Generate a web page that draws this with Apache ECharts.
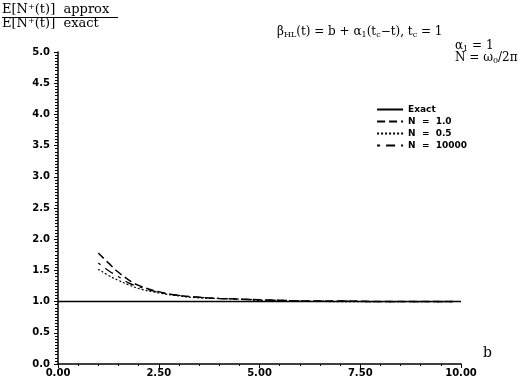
<!DOCTYPE html>
<html style="height: 100%">
<head>
    <meta charset="UTF-8">
    <title>E[N+(t)] ratio</title>
</head>
<body style="height: 100%; margin: 0; background: #fff">
<div id="container" style="width: 528px; height: 380px"></div>

<script type="text/javascript" src="https://cdn.jsdelivr.net/npm/echarts@6/dist/echarts.min.js"></script>
<script type="text/javascript">
    var dom = document.getElementById("container");
    var myChart = echarts.init(dom);

    // x values (b) and ratio values
    var exactX = [0, 10];
    var exactY = [1.0, 1.0];
    var bVals = [1.0, 1.25, 1.5, 1.75, 2.0, 2.5, 3.0, 3.5, 4.0, 4.5, 5.0, 5.5, 6.0, 7.0, 8.0, 9.0, 9.8];
    var n1 = [1.78, 1.62, 1.47, 1.35, 1.26, 1.16, 1.10, 1.07, 1.05, 1.04, 1.03, 1.02, 1.01, 1.01, 1.00, 1.00, 1.00];
    var n05 = [1.52, 1.42, 1.34, 1.27, 1.21, 1.14, 1.09, 1.06, 1.05, 1.04, 1.02, 1.02, 1.01, 1.00, 1.00, 1.00, 1.00];
    var n10000 = [1.62, 1.50, 1.40, 1.30, 1.24, 1.15, 1.10, 1.07, 1.05, 1.04, 1.03, 1.02, 1.01, 1.01, 1.00, 1.00, 1.00];
    var xTicks = ['0.00', '2.50', '5.00', '7.50', '10.00'];

    function pairs(xs, ys) {
        return xs.map(function (x, i) { return [x, ys[i]]; });
    }

    var labelFont = {color: '#000', fontSize: 10, fontWeight: 'bold', fontFamily: 'DejaVu Sans'};

    var option = {
        animation: false,
        backgroundColor: '#fff',
        grid: {left: 58, right: 67, top: 52, bottom: 16},
        graphic: [
            {
                type: 'text', left: 2, top: 3,
                style: {
                    text: 'E[N⁺(t)]  approx\nE[N⁺(t)]  exact',
                    font: '13px "DejaVu Serif"', fill: '#000', lineHeight: 14
                }
            },
            {
                type: 'line', shape: {x1: 2, y1: 17.5, x2: 118, y2: 17.5},
                style: {stroke: '#000', lineWidth: 1}
            },
            {
                type: 'text', left: 277, top: 26,
                style: {
                    text: 'β{s|HL}(t) = b + α{s|1}(t{s|c}−t), t{s|c} = 1',
                    font: '12px "DejaVu Serif"', fill: '#000',
                    rich: {s: {fontSize: 8, fontFamily: 'DejaVu Serif', padding: [6, 0, 0, 0]}}
                }
            },
            {
                type: 'text', left: 455, top: 40,
                style: {
                    text: 'α{s|1} = 1\nN = ω{s|0}/2π',
                    font: '12px "DejaVu Serif"', fill: '#000', lineHeight: 12,
                    rich: {s: {fontSize: 8, fontFamily: 'DejaVu Serif', padding: [6, 0, 0, 0]}}
                }
            }
        ],
        legend: {
            right: 56, top: 100,
            orient: 'vertical',
            itemWidth: 26, itemHeight: 8, itemGap: 3,
            itemStyle: {color: 'transparent', borderWidth: 0},
            textStyle: {color: '#000', fontSize: 9, fontWeight: 'bold', fontFamily: 'DejaVu Sans'},
            data: ['Exact', 'N  =  1.0', 'N  =  0.5', 'N  =  10000']
        },
        xAxis: {
            type: 'value', min: 0, max: 10, interval: 2.5,
            name: 'b', nameLocation: 'end', nameGap: 22,
            nameTextStyle: {color: '#000', fontSize: 14, fontFamily: 'DejaVu Serif', verticalAlign: 'bottom', padding: [0, 0, 4, 0]},
            axisLine: {lineStyle: {color: '#000', width: 1.5}},
            axisTick: {length: 4, lineStyle: {color: '#000'}},
            minorTick: {show: true, splitNumber: 5, length: 2, lineStyle: {color: '#000'}},
            splitLine: {show: false},
            axisLabel: Object.assign({margin: 4, formatter: function (v) { return xTicks[Math.round(v / 2.5)]; }}, labelFont)
        },
        yAxis: {
            type: 'value', min: 0, max: 5, interval: 0.5,
            axisLine: {show: true, lineStyle: {color: '#000', width: 1.5}},
            axisTick: {show: true, length: 4, lineStyle: {color: '#000'}},
            minorTick: {show: true, splitNumber: 10, length: 3, lineStyle: {color: '#000'}},
            splitLine: {show: false},
            axisLabel: Object.assign({margin: 8, formatter: function (v) { return v.toFixed(1); }}, labelFont)
        },
        series: [
            {
                name: 'Exact', type: 'line', showSymbol: false, symbol: 'none',
                data: pairs(exactX, exactY),
                itemStyle: {color: '#000'},
                lineStyle: {color: '#000', width: 1.5, type: 'solid'}
            },
            {
                name: 'N  =  1.0', type: 'line', showSymbol: false, symbol: 'none', smooth: true,
                data: pairs(bVals, n1),
                itemStyle: {color: '#000'},
                lineStyle: {color: '#000', width: 1.5, type: [8, 4]}
            },
            {
                name: 'N  =  0.5', type: 'line', showSymbol: false, symbol: 'none', smooth: true,
                data: pairs(bVals, n05),
                itemStyle: {color: '#000'},
                lineStyle: {color: '#000', width: 1.2, type: [2, 2]}
            },
            {
                name: 'N  =  10000', type: 'line', showSymbol: false, symbol: 'none', smooth: true,
                data: pairs(bVals, n10000),
                itemStyle: {color: '#000'},
                lineStyle: {color: '#000', width: 1.2, type: [3, 6, 9, 6]}
            }
        ]
    };

    myChart.setOption(option);
</script>
</body>
</html>
